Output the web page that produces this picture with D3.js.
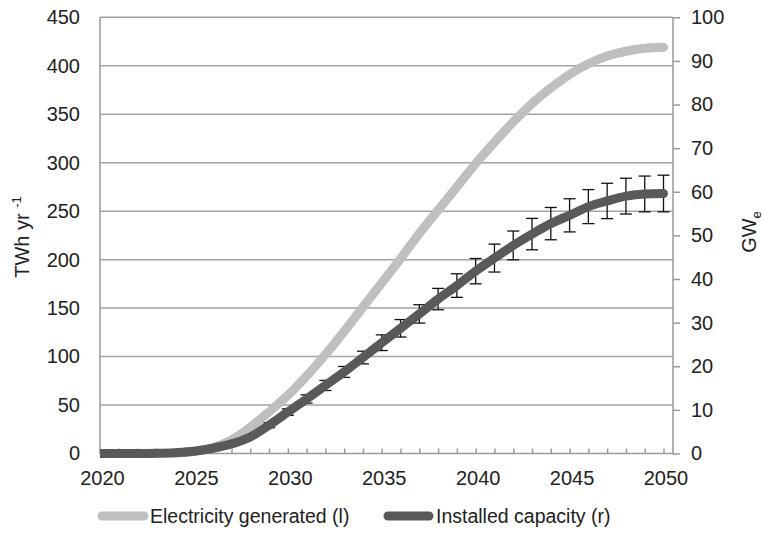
<!DOCTYPE html>
<html>
<head>
<meta charset="utf-8">
<script src="https://cdn.jsdelivr.net/npm/d3@7"></script>
<style>
    body { margin: 0; background: #fff; }
    svg text { font-family: "Liberation Sans", Arial, sans-serif; fill: #222; }
</style>
</head>
<body>
<svg id="chart" width="763" height="551"></svg>
<script>
// years on the x axis
var years = d3.range(2020, 2051);
var yearLabels = [2020, 2025, 2030, 2035, 2040, 2045, 2050];

// electricity generated, TWh per year (left axis)
var electricity = [0, 0, 0, 0, 0.3, 2, 6, 14, 27, 43, 60, 80, 102, 126, 151, 176,
    201, 227, 251, 275, 299, 321, 342, 361, 377, 391, 402, 410, 415, 418, 419];

// installed capacity, GWe (right axis)
var capacity = [0, 0, 0, 0.05, 0.2, 0.5, 1.2, 2.2, 3.8, 6.5, 9.5, 12.5, 15.6, 18.7, 22.0, 25.4,
    28.7, 32.0, 35.4, 38.5, 41.8, 44.8, 47.7, 50.3, 52.7, 54.6, 56.6, 57.9, 59.0, 59.5, 59.6];

// +/- error on installed capacity, GWe
var capacityErr = [0, 0, 0, 0, 0, 0.05, 0.1, 0.2, 0.3, 0.6, 0.75, 0.95, 1.15, 1.25, 1.45, 1.8,
    2.0, 2.1, 2.45, 2.7, 2.9, 3.2, 3.3, 3.6, 3.7, 3.8, 3.9, 4.05, 4.1, 4.1, 4.2];

var leftTicks = d3.range(0, 451, 50);
var rightTicks = d3.range(0, 101, 10);

var svg = d3.select('#chart');
var plotLeft = 100, plotRight = 673, plotTop = 17.3, plotBottom = 453.5;

var x = d3.scaleLinear().domain([2020, 2050]).range([plotLeft, 663.5]);
var yL = d3.scaleLinear().domain([0, 450]).range([plotBottom, plotTop]);
var yR = d3.scaleLinear().domain([0, 100]).range([plotBottom, plotTop]);

var gridColor = '#a3a3a3', axisColor = '#999';

// horizontal grid
svg.append('g').attr('class', 'grid')
    .selectAll('line').data(leftTicks.slice(1))
    .enter().append('line')
    .attr('x1', plotLeft).attr('x2', plotRight)
    .attr('y1', function (d) { return yL(d); })
    .attr('y2', function (d) { return yL(d); })
    .attr('stroke', gridColor).attr('stroke-width', 1.5);

// left axis labels
var gLeft = svg.append('g').attr('transform', 'translate(' + plotLeft + ',0)')
    .call(d3.axisLeft(yL).tickValues(leftTicks).tickSize(0).tickPadding(20));
gLeft.select('.domain').remove();
gLeft.selectAll('text').style('font-size', '20px').style('fill', '#222');

// right axis with outer ticks
var gRight = svg.append('g').attr('transform', 'translate(' + plotRight + ',0)')
    .call(d3.axisRight(yR).tickValues(rightTicks).tickSizeInner(7).tickSizeOuter(0).tickPadding(11));
gRight.select('.domain').remove();
gRight.selectAll('line').attr('stroke', axisColor).attr('stroke-width', 1.5);
gRight.selectAll('text').style('font-size', '20px').style('fill', '#222');

// x axis: small inward ticks each year
var gX = svg.append('g').attr('transform', 'translate(0,' + plotBottom + ')')
    .call(d3.axisBottom(x).tickValues(years.slice(1)).tickSize(-5).tickFormat(''));
gX.select('.domain').remove();
gX.selectAll('line').attr('stroke', axisColor).attr('stroke-width', 1.5);

var gXLab = svg.append('g').attr('transform', 'translate(2,' + plotBottom + ')')
    .call(d3.axisBottom(x).tickValues(yearLabels).tickSize(0).tickPadding(17).tickFormat(d3.format('d')));
gXLab.select('.domain').remove();
gXLab.selectAll('text').style('font-size', '20px').style('fill', '#222');

// axis lines
svg.append('path')
    .attr('d', 'M' + plotLeft + ',' + plotTop + 'V' + plotBottom + 'H' + plotRight + 'V' + plotTop)
    .attr('fill', 'none').attr('stroke', axisColor).attr('stroke-width', 1.5);

// series
svg.append('clipPath').attr('id', 'plotClip')
    .append('rect').attr('x', plotLeft).attr('y', 0).attr('width', 620).attr('height', 551);

var plot = svg.append('g').attr('clip-path', 'url(#plotClip)');

// error bars on capacity (drawn under the lines)
var errData = capacity.map(function (v, i) { return { year: years[i], v: v, e: capacityErr[i] }; })
    .filter(function (d) { return d.e > 0; });
var eb = plot.append('g').attr('class', 'errorbars')
    .attr('stroke', '#111').attr('stroke-width', 1.3);
eb.selectAll('line.v').data(errData).enter().append('line').attr('class', 'v')
    .attr('x1', function (d) { return x(d.year); })
    .attr('x2', function (d) { return x(d.year); })
    .attr('y1', function (d) { return yR(d.v + d.e); })
    .attr('y2', function (d) { return yR(d.v - d.e); });
eb.selectAll('line.t').data(errData).enter().append('line').attr('class', 't')
    .attr('x1', function (d) { return x(d.year) - 6; })
    .attr('x2', function (d) { return x(d.year) + 6; })
    .attr('y1', function (d) { return yR(d.v + d.e); })
    .attr('y2', function (d) { return yR(d.v + d.e); });
eb.selectAll('line.b').data(errData).enter().append('line').attr('class', 'b')
    .attr('x1', function (d) { return x(d.year) - 6; })
    .attr('x2', function (d) { return x(d.year) + 6; })
    .attr('y1', function (d) { return yR(d.v - d.e); })
    .attr('y2', function (d) { return yR(d.v - d.e); });

var lineL = d3.line()
    .x(function (d, i) { return x(years[i]); })
    .y(function (d) { return yL(d); })
    .curve(d3.curveMonotoneX);
var lineR = d3.line()
    .x(function (d, i) { return x(years[i]); })
    .y(function (d) { return yR(d); })
    .curve(d3.curveMonotoneX);

plot.append('path').datum(electricity)
    .attr('d', lineL)
    .attr('fill', 'none').attr('stroke', '#bfbfbf')
    .attr('stroke-width', 9).attr('stroke-linecap', 'round').attr('stroke-linejoin', 'round');

plot.append('path').datum(capacity)
    .attr('d', lineR)
    .attr('fill', 'none').attr('stroke', '#595959')
    .attr('stroke-width', 9).attr('stroke-linecap', 'round').attr('stroke-linejoin', 'round');

// axis titles
var tl = svg.append('text')
    .attr('transform', 'translate(29,237) rotate(-90)')
    .attr('text-anchor', 'middle')
    .style('font-size', '20px');
tl.append('tspan').text('TWh yr ');
tl.append('tspan').text('-1').attr('dy', -8).style('font-size', '13px');

var tr = svg.append('text')
    .attr('transform', 'translate(756,232) rotate(-90)')
    .attr('text-anchor', 'middle')
    .style('font-size', '20px');
tr.append('tspan').text('GW');
tr.append('tspan').text('e').attr('dy', 5).style('font-size', '13px');

// legend
var legend = [
    { label: 'Electricity generated (l)', color: '#bfbfbf', x1: 102, x2: 144, tx: 150 },
    { label: 'Installed capacity (r)', color: '#595959', x1: 388, x2: 429, tx: 436 }
];
var lg = svg.append('g').selectAll('g').data(legend).enter().append('g');
lg.append('line')
    .attr('x1', function (d) { return d.x1; }).attr('x2', function (d) { return d.x2; })
    .attr('y1', 516).attr('y2', 516)
    .attr('stroke', function (d) { return d.color; })
    .attr('stroke-width', 9).attr('stroke-linecap', 'round');
lg.append('text')
    .attr('x', function (d) { return d.tx; }).attr('y', 523)
    .style('font-size', '19.5px')
    .text(function (d) { return d.label; });
</script>
</body>
</html>
